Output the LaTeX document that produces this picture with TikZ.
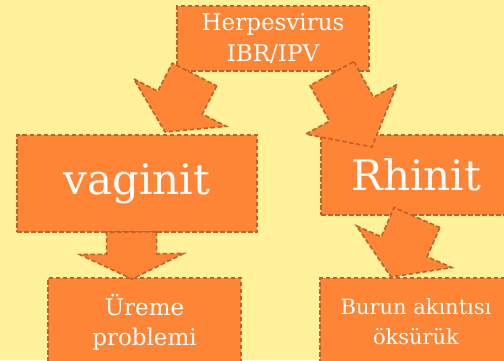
\documentclass[tikz,border=0pt]{standalone}
\usepackage{fontspec}
\setmainfont{DejaVu Serif}
\usepackage{tikz}
\usetikzlibrary{calc,positioning}
\definecolor{bg}{HTML}{FFF29A}
\definecolor{boxfill}{HTML}{FD8535}
\definecolor{boxline}{HTML}{BF6128}
\tikzset{
  box/.style={fill=boxfill,draw=boxline,line width=1.6pt,dash pattern=on 4.5pt off 2.5pt,
    text=white,align=center,inner sep=0pt},
  bigarrow/.style={fill=boxfill,draw=boxline,line width=1.6pt,dash pattern=on 4.5pt off 2.5pt}
}
% block arrow: from, to, head length
\newcommand{\blockarrow}[3]{%
  \coordinate (ah) at ($(#2)!#3!(#1)$);
  \draw[bigarrow] ($(#1)!25pt!90:(#2)$) -- ($(ah)!25pt!90:(#2)$) -- ($(ah)!52pt!90:(#2)$)
    -- (#2) -- ($(ah)!52pt!-90:(#2)$) -- ($(ah)!25pt!-90:(#2)$) -- ($(#1)!25pt!-90:(#2)$) -- cycle;}

\begin{document}
\begin{tikzpicture}[x=1pt,y=1pt]
        \useasboundingbox (0,0) rectangle (504,360);
        \fill[bg] (0,0) rectangle (504,360);
        \node[box,minimum width=192pt,minimum height=65pt,font=\fontsize{23}{30.5}\selectfont]
          (herpes) at (273,321.5) {Herpesvirus\\IBR/IPV};
        \node[box,minimum width=240pt,minimum height=97pt,font=\fontsize{42}{48}\selectfont]
          (vaginit) at (137,176.5) {vaginit};
        \node[box,minimum width=191pt,minimum height=80pt,font=\fontsize{42}{48}\selectfont]
          (rhinit) at (416.5,185) {Rhinit};
        \node[box,minimum width=193pt,minimum height=88pt,font=\fontsize{23}{30}\selectfont]
          (ureme) at (144.5,38) {Üreme\\problemi};
        \node[box,minimum width=192pt,minimum height=88pt,font=\fontsize{21}{30}\selectfont]
          (burun) at (416,38) {Burun akıntısı\\öksürük};
        \coordinate (a1) at (194.5,285.5);
        \coordinate (t1) at (165,228);
        \coordinate (a2) at (332,286.5);
        \coordinate (t2) at (372,213);
        \coordinate (a3) at (131.5,128);
        \coordinate (t3) at (132,81);
        \coordinate (a4) at (417,142.5);
        \coordinate (t4) at (391,83);
        \blockarrow{a1}{t1}{33pt}
        \blockarrow{a2}{t2}{43pt}
        \blockarrow{a3}{t3}{25pt}
        \blockarrow{a4}{t4}{33pt}
      \end{tikzpicture}
\end{document}
